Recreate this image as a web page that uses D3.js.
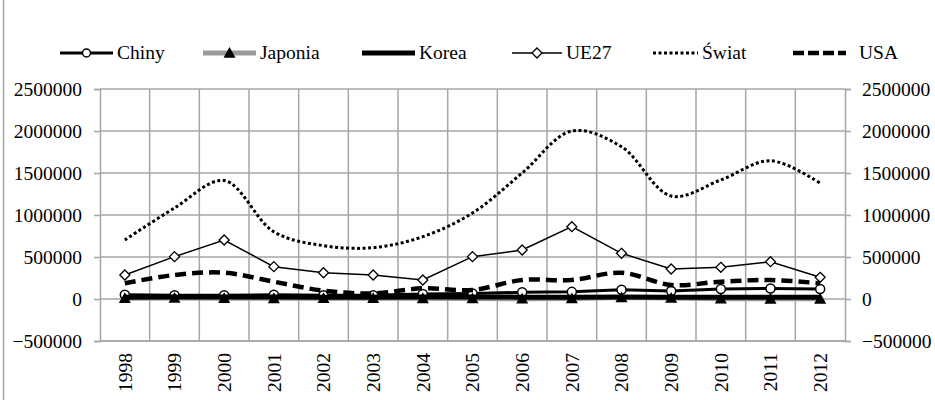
<!DOCTYPE html>
<html>
<head>
<meta charset="utf-8">
<script src="https://cdn.jsdelivr.net/npm/d3@7"></script>
<style>
  body { margin: 0; background: #fff; }
  svg text { font-family: "Liberation Serif", Tinos, "Times New Roman", Times, "Nimbus Roman", "Nimbus Roman No9 L", FreeSerif, "Noto Serif", "DejaVu Serif", serif; font-size: 19.5px; fill: #000; }
  .grid line { stroke: #a6a6a6; stroke-width: 1.5; }
  .axis path, .axis line { stroke: #a6a6a6; stroke-width: 1.5; }
</style>
</head>
<body>
<svg width="935" height="400"></svg>
<script>
const years = ["1998", "1999", "2000", "2001", "2002", "2003", "2004", "2005",
  "2006", "2007", "2008", "2009", "2010", "2011", "2012"];

const chiny = [50000, 45000, 45000, 50000, 45000, 45000, 60000, 65000, 80000, 85000, 110000, 95000, 120000, 125000, 120000];
const japonia = [10000, 12000, 10000, 8000, 9000, 10000, 8000, 7000, 3000, 6000, 18000, 12000, 4000, 2000, 2000];
const korea = [22000, 25000, 25000, 25000, 22000, 22000, 25000, 25000, 22000, 22000, 25000, 22000, 22000, 22000, 22000];
const ue27 = [286000, 504000, 702000, 385000, 313000, 286000, 226000, 504000, 583000, 861000, 544000, 357000, 377000, 444000, 258000];
const swiat = [702000, 1083000, 1410000, 800000, 635000, 611000, 742000, 1024000, 1500000, 2000000, 1813000, 1226000, 1417000, 1646000, 1377000];
const usa = [187000, 286000, 313000, 206000, 99000, 67000, 127000, 107000, 226000, 226000, 313000, 167000, 206000, 226000, 187000];

const yTicks = [-500000, 0, 500000, 1000000, 1500000, 2000000, 2500000];

const series = [
  { name: "Chiny", values: chiny, color: "#000", width: 3, dash: null, marker: "circle", smooth: false },
  { name: "Japonia", values: japonia, color: "#9a9a9a", width: 5, dash: null, marker: "triangle", smooth: false },
  { name: "Korea", values: korea, color: "#000", width: 5, dash: null, marker: null, smooth: false },
  { name: "UE27", values: ue27, color: "#000", width: 1.5, dash: null, marker: "diamond", smooth: false },
  { name: "Świat", values: swiat, color: "#000", width: 3, dash: "3,2.5", marker: null, smooth: true },
  { name: "USA", values: usa, color: "#000", width: 4.5, dash: "11,6", marker: null, smooth: true }
];

const legendX = [60, 203, 362, 512, 653, 793];

const svg = d3.select("svg");
const plotLeft = 100, plotRight = 845, plotTop = 89, plotBottom = 341;

const x = d3.scaleBand().domain(years).range([plotLeft, plotRight]).padding(0);
const y = d3.scaleLinear().domain([-500000, 2500000]).range([plotBottom, plotTop]);
const cx = (d) => x(d) + x.bandwidth() / 2;

// border on the left edge
svg.append("line").attr("x1", 3.5).attr("x2", 3.5).attr("y1", 0).attr("y2", 400)
  .attr("stroke", "#a6a6a6").attr("stroke-width", 1.5);

// gridlines
const grid = svg.append("g").attr("class", "grid");
grid.selectAll(".h").data(yTicks).join("line").attr("class", "h")
  .attr("x1", plotLeft).attr("x2", plotRight)
  .attr("y1", (d) => y(d)).attr("y2", (d) => y(d));
grid.selectAll(".v").data(years.slice(1)).join("line").attr("class", "v")
  .attr("x1", (d) => x(d)).attr("x2", (d) => x(d))
  .attr("y1", plotTop).attr("y2", plotBottom);

// axes
svg.append("g").attr("class", "axis")
  .attr("transform", `translate(${plotLeft},0)`)
  .call(d3.axisLeft(y).tickValues(yTicks).tickSize(6).tickPadding(12).tickFormat(d3.format("d")));
svg.append("g").attr("class", "axis")
  .attr("transform", `translate(${plotRight},0)`)
  .call(d3.axisRight(y).tickValues(yTicks).tickSize(6).tickPadding(11).tickFormat(d3.format("d")));

const xAxis = svg.append("g").attr("class", "axis")
  .attr("transform", `translate(0,${plotBottom})`)
  .call(d3.axisBottom(x).tickSize(0).tickPadding(0));
xAxis.select(".domain").attr("d", `M${plotLeft},0H${plotRight}`);
xAxis.selectAll("text")
  .attr("transform", "rotate(-90)")
  .attr("x", -12).attr("y", 0).attr("dy", "0.35em")
  .style("text-anchor", "end");
svg.selectAll(".axis").attr("font-family", null).attr("font-size", null);

// markers
function drawMarker(g, type, px, py, small) {
  if (type === "circle") {
    g.append("circle").attr("cx", px).attr("cy", py).attr("r", small ? 4 : 4.5)
      .attr("fill", "#fff").attr("stroke", "#000").attr("stroke-width", 1.5);
  } else if (type === "triangle") {
    const s = 6;
    g.append("path")
      .attr("d", `M${px},${py - s}L${px + s},${py + s * 0.8}L${px - s},${py + s * 0.8}Z`)
      .attr("fill", "#000");
  } else if (type === "diamond") {
    const s = 5;
    g.append("path")
      .attr("d", `M${px},${py - s}L${px + s},${py}L${px},${py + s}L${px - s},${py}Z`)
      .attr("fill", "#fff").attr("stroke", "#000").attr("stroke-width", 1.3);
  }
}

const plot = svg.append("g");
series.forEach((s) => {
  const line = d3.line()
    .x((d, i) => cx(years[i]))
    .y((d) => y(d))
    .curve(s.smooth ? d3.curveCatmullRom.alpha(0.5) : d3.curveLinear);
  const g = plot.append("g");
  g.append("path").datum(s.values)
    .attr("d", line)
    .attr("fill", "none")
    .attr("stroke", s.color)
    .attr("stroke-width", s.width)
    .attr("stroke-dasharray", s.dash);
  if (s.marker) {
    s.values.forEach((v, i) => drawMarker(g, s.marker, cx(years[i]), y(v)));
  }
});

// legend
const legend = svg.append("g").attr("transform", "translate(0,53)");
series.forEach((s, i) => {
  const lx = legendX[i];
  const w = s.dash === "3,2.5" ? 45 : (s.name === "UE27" ? 50 : 53);
  legend.append("line")
    .attr("x1", lx).attr("x2", lx + w).attr("y1", 0).attr("y2", 0)
    .attr("stroke", s.color)
    .attr("stroke-width", s.name === "Chiny" ? 3 : s.width)
    .attr("stroke-dasharray", s.name === "USA" ? "11,4" : s.dash);
  if (s.marker) drawMarker(legend, s.marker, lx + w / 2, 0, true);
  legend.append("text")
    .attr("x", lx + w + (s.name === "USA" ? 13 : 4))
    .attr("y", 0).attr("dy", "0.33em")
    .text(s.name);
});
</script>
</body>
</html>
